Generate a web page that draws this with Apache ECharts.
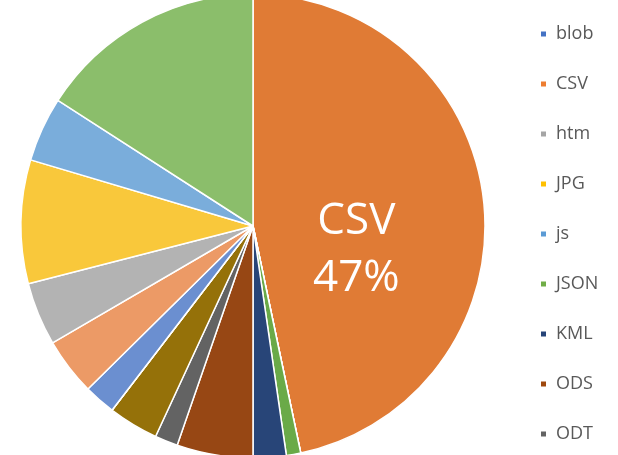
<!DOCTYPE html>
<html>
<head>
<meta charset="utf-8">
<script src="https://cdn.jsdelivr.net/npm/echarts@6/dist/echarts.min.js"></script>
<style>
  html, body { margin: 0; padding: 0; background: #fff; }
  #main { width: 618px; height: 455px; }
</style>
</head>
<body>
<div id="main"></div>
<script>
// file types, in data order (only the first 9 fit into the legend)
var typeNames = ["blob", "CSV", "htm", "JPG", "js", "JSON", "KML", "ODS", "ODT",
  "PDF", "PNG", "RDF", "RSS", "SHP", "TXT", "XLS", "XML", "ZIP"];
// share of files, percent
var typeValues = [0, 46.7, 0, 0, 0, 1.0, 2.3, 5.3, 1.6,
  3.5, 0, 0, 2.2, 4.0, 4.4, 8.6, 4.5, 15.9];
// slice colours as drawn
var sliceColors = ["#4472c4", "#e07b35", "#a5a5a5", "#ffc000", "#5b9bd5", "#6aaa48", "#284578", "#974714", "#636363",
  "#957109", "#255e91", "#43682b", "#6b8fd0", "#ec9a66", "#b3b3b3", "#f9c83b", "#7aaddb", "#8bbe6b"];
// legend marker colours
var legendColors = ["#4472c4", "#ed7d31", "#a5a5a5", "#ffc000", "#5b9bd5", "#70ad47", "#264478", "#9e480e", "#636363"];

var chart = echarts.init(document.getElementById("main"));

var pieData = [];
for (let i = 0; i < typeNames.length; i++) {
  pieData.push({
    name: typeNames[i],
    value: typeValues[i],
    itemStyle: { color: sliceColors[i] },
    label: { show: typeNames[i] === "CSV" },
  });
}

var legendData = [];
for (let i = 0; i < 9; i++) {
  legendData.push({ name: typeNames[i], itemStyle: { color: legendColors[i] } });
}

var option = {
  animation: false,
  legend: {
    orient: "vertical",
    left: 534,
    top: 17,
    icon: "rect",
    itemWidth: 7,
    itemHeight: 7,
    itemGap: 26,
    selectedMode: false,
    data: legendData,
    textStyle: {
      color: "#595959",
      fontSize: 18,
      fontFamily: "Open Sans",
      lineHeight: 24,
      padding: [0, 0, 0, 4],
    },
  },
  series: [
    {
      type: "pie",
      center: [253, 226],
      radius: 232,
      startAngle: 90,
      clockwise: true,
      avoidLabelOverlap: false,
      stillShowZeroSum: false,
      itemStyle: {
        borderColor: "#fff",
        borderWidth: 1.5,
      },
      label: {
        position: "inside",
        formatter: function (p) {
          return p.name + "\n" + Math.round(p.percent) + "%";
        },
        color: "#fff",
        fontSize: 44,
        fontFamily: "Open Sans",
        lineHeight: 57,
      },
      labelLine: { show: false },
      labelLayout: { dx: -15, dy: 36 },
      data: pieData,
    },
  ],
};
chart.setOption(option);
</script>
</body>
</html>
